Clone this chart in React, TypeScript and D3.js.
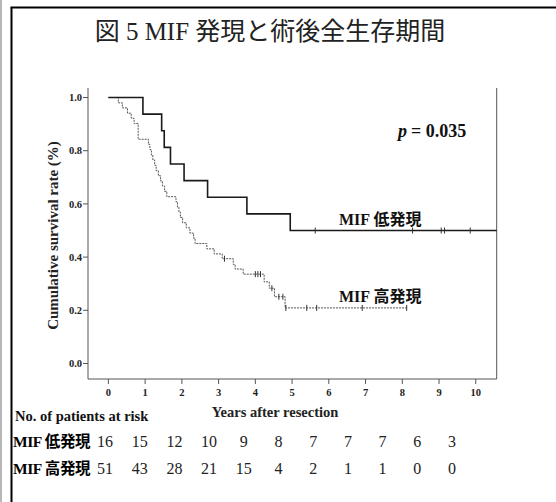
import React from "react";
import * as d3 from "d3";

const W = 556;
const H = 502;

// Low MIF expression group (n=16)
const lowTimes = [0, 0.94, 1.45, 1.52, 1.69, 2.06, 2.7, 3.77, 4.95];
const lowSurv = [1, 0.9375, 0.875, 0.8125, 0.75, 0.6875, 0.625, 0.5625, 0.5];
const lowEnd = 10.57;
const lowCensor = [5.63, 8.28, 9.06, 9.15, 9.85];

// High MIF expression group (n=51)
const highTimes = [0, 0.27, 0.38, 0.52, 0.62, 0.7, 0.81, 1.09, 1.13, 1.17, 1.21, 1.26, 1.3, 1.36, 1.42, 1.47, 1.53, 1.59, 1.84, 1.88, 1.92, 1.96, 2.02, 2.12, 2.22, 2.32, 2.36, 2.68, 2.88, 3.1, 3.4, 3.45, 3.67, 4.24, 4.38, 4.52, 4.81];
const highSurv = [1, 0.98, 0.961, 0.941, 0.922, 0.902, 0.843, 0.824, 0.804, 0.784, 0.765, 0.745, 0.725, 0.706, 0.686, 0.667, 0.647, 0.627, 0.608, 0.588, 0.569, 0.549, 0.529, 0.51, 0.49, 0.471, 0.451, 0.431, 0.412, 0.394, 0.372, 0.355, 0.336, 0.307, 0.283, 0.251, 0.209];
const highEnd = 8.12;
const highCensor = [3.16, 4.0, 4.07, 4.14, 4.45, 4.64, 4.75, 4.83, 5.4, 5.67, 6.91, 8.12];

const xTicks = [0, 1, 2, 3, 4, 5, 6, 7, 8, 9, 10];
const yTicks = [0, 0.2, 0.4, 0.6, 0.8, 1.0];

const riskLowLabel = "MIF 低発現";
const riskHighLabel = "MIF 高発現";
const riskLow = [16, 15, 12, 10, 9, 8, 7, 7, 7, 6, 3];
const riskHigh = [51, 43, 28, 21, 15, 4, 2, 1, 1, 0, 0];

const title = "図 5 MIF 発現と術後全生存期間";
const pText = "= 0.035";

const SERIF = "'Liberation Serif', 'Times New Roman', 'Noto Sans CJK JP', serif";
const CJK_SERIF = "'Liberation Serif', 'Noto Sans CJK JP', serif";

const x = d3.scaleLinear().domain([-0.555, 10.57]).range([88, 496.7]);
const y = d3.scaleLinear().domain([0, 1]).range([363.5, 97.5]);
const plotTop = 88;
const plotBottom = 379;
const riskX = d3.scaleLinear().domain([0, 10]).range([105, 452]);

function stepPath(times: number[], surv: number[], end: number) {
  const pts: [number, number][] = times.map((t, i) => [t, surv[i]]);
  pts.push([end, surv[surv.length - 1]]);
  const line = d3
    .line<[number, number]>()
    .x((d) => x(d[0]))
    .y((d) => y(d[1]))
    .curve(d3.curveStepAfter);
  return line(pts) || "";
}

function survAt(times: number[], surv: number[], t: number) {
  let s = surv[0];
  for (let i = 0; i < times.length; i++) if (times[i] <= t) s = surv[i];
  return s;
}

export default function App() {
  return (
    <svg
      width={W}
      height={H}
      style={{ position: "absolute", left: 0, top: 0, background: "#fff" }}
    >
      <rect x={0} y={0} width={W} height={H} fill="#fff" />
      {/* outer frame */}
      <line x1={1} y1={0} x2={1} y2={H} stroke="#888" strokeWidth={1.2} />
      <line x1={11.5} y1={7.5} x2={11.5} y2={H} stroke="#000" strokeWidth={2} />
      <line x1={10.5} y1={7.5} x2={W} y2={7.5} stroke="#000" strokeWidth={2} />

      {/* title */}
      <text
        x={270}
        y={40}
        textAnchor="middle"
        fontFamily={CJK_SERIF}
        fontSize={25}
        fill="#222"
      >
        {title}
      </text>

      {/* plot frame */}
      <line x1={x.range()[0]} y1={plotTop} x2={x.range()[0]} y2={plotBottom} stroke="#555" strokeWidth={1} />
      <line x1={x.range()[1]} y1={plotTop} x2={x.range()[1]} y2={plotBottom} stroke="#555" strokeWidth={1} />
      <line x1={x.range()[0]} y1={plotBottom} x2={x.range()[1]} y2={plotBottom} stroke="#555" strokeWidth={1} />

      {/* y ticks */}
      {yTicks.map((t) => (
        <g key={"y" + t}>
          <line x1={x.range()[0] - 5} x2={x.range()[0]} y1={y(t)} y2={y(t)} stroke="#555" />
          <text
            x={x.range()[0] - 6}
            y={y(t)}
            dy="0.35em"
            textAnchor="end"
            fontFamily={SERIF}
            fontWeight="bold"
            fontSize={10.5}
            fill="#222"
          >
            {t.toFixed(1)}
          </text>
        </g>
      ))}

      {/* x ticks */}
      {xTicks.map((t) => (
        <g key={"x" + t}>
          <line x1={x(t)} x2={x(t)} y1={plotBottom} y2={plotBottom + 5} stroke="#555" />
          <text
            x={x(t)}
            y={plotBottom + 17}
            textAnchor="middle"
            fontFamily={SERIF}
            fontWeight="bold"
            fontSize={10.5}
            fill="#222"
          >
            {t}
          </text>
        </g>
      ))}

      {/* axis titles */}
      <text
        transform={`translate(58, ${(plotTop + plotBottom) / 2 + 2}) rotate(-90)`}
        textAnchor="middle"
        fontFamily={SERIF}
        fontWeight="bold"
        fontSize={15}
        fill="#222"
      >
        Cumulative survival rate (%)
      </text>
      <text
        x={275}
        y={417}
        textAnchor="middle"
        fontFamily={SERIF}
        fontWeight="bold"
        fontSize={14.5}
        fill="#222"
      >
        Years after resection
      </text>

      {/* curves */}
      <path
        d={stepPath(highTimes, highSurv, highEnd)}
        fill="none"
        stroke="#555"
        strokeWidth={1}
        strokeDasharray="2,1"
      />
      <path d={stepPath(lowTimes, lowSurv, lowEnd)} fill="none" stroke="#1a1a1a" strokeWidth={1.6} />

      {/* censor marks */}
      {lowCensor.map((t, i) => (
        <line
          key={"lc" + i}
          x1={x(t)}
          x2={x(t)}
          y1={y(survAt(lowTimes, lowSurv, t)) - 3}
          y2={y(survAt(lowTimes, lowSurv, t)) + 3}
          stroke="#333"
          strokeWidth={1}
        />
      ))}
      {highCensor.map((t, i) => (
        <line
          key={"hc" + i}
          x1={x(t)}
          x2={x(t)}
          y1={y(survAt(highTimes, highSurv, t)) - 3}
          y2={y(survAt(highTimes, highSurv, t)) + 3}
          stroke="#333"
          strokeWidth={1}
        />
      ))}

      {/* in-plot labels */}
      <text x={398} y={137} fontFamily={SERIF} fontWeight="bold" fontSize={18} fill="#111">
        <tspan fontStyle="italic">p</tspan>
        <tspan dx={4}>{pText}</tspan>
      </text>
      <text x={339} y={225} fontFamily={CJK_SERIF} fontWeight="bold" fontSize={16} fill="#111">
        {riskLowLabel}
      </text>
      <text x={339} y={302} fontFamily={CJK_SERIF} fontWeight="bold" fontSize={16} fill="#111">
        {riskHighLabel}
      </text>

      {/* risk table */}
      <text x={15} y={421} fontFamily={SERIF} fontWeight="bold" fontSize={14.5} fill="#111">
        No. of patients at risk
      </text>
      <text x={13} y={447} fontFamily={CJK_SERIF} fontWeight="bold" fontSize={15.5} fill="#000" letterSpacing={-0.4}>
        {riskLowLabel}
      </text>
      <text x={13} y={474} fontFamily={CJK_SERIF} fontWeight="bold" fontSize={15.5} fill="#000" letterSpacing={-0.4}>
        {riskHighLabel}
      </text>
      {riskLow.map((v, i) => (
        <text
          key={"rl" + i}
          x={riskX(i)}
          y={447}
          textAnchor="middle"
          fontFamily={SERIF}
          fontSize={16}
          fill="#222"
        >
          {v}
        </text>
      ))}
      {riskHigh.map((v, i) => (
        <text
          key={"rh" + i}
          x={riskX(i)}
          y={474}
          textAnchor="middle"
          fontFamily={SERIF}
          fontSize={16}
          fill="#222"
        >
          {v}
        </text>
      ))}
    </svg>
  );
}
